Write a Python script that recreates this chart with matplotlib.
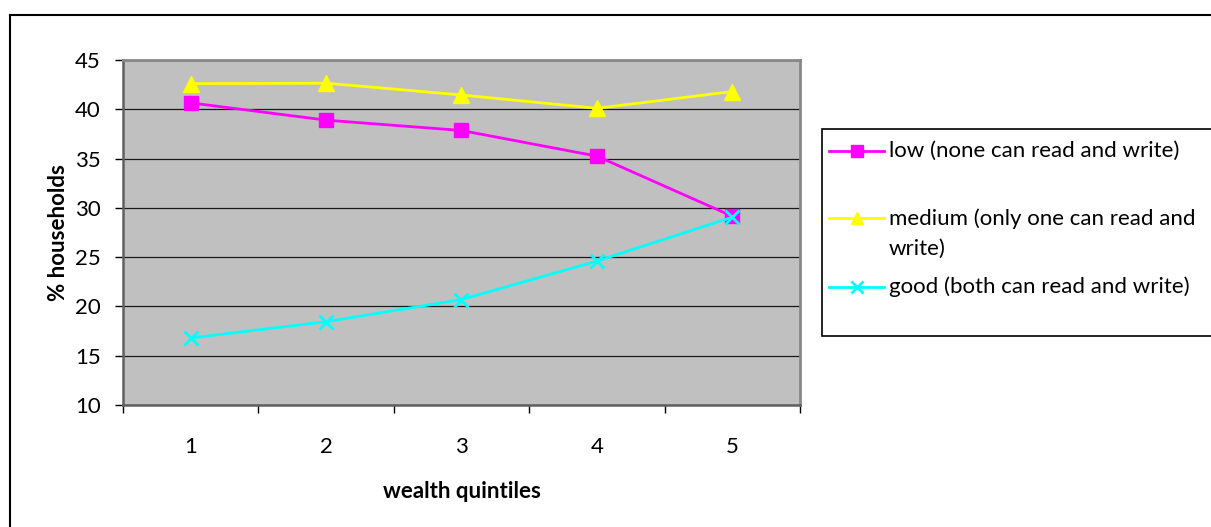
import matplotlib
matplotlib.use("Agg")
import matplotlib.pyplot as plt
from matplotlib.lines import Line2D

plt.rcParams['font.family'] = ['Lato', 'DejaVu Sans']

# Data
quintiles = ['1', '2', '3', '4', '5']
low = [40.65, 38.9, 37.85, 35.25, 29.15]
medium = [42.6, 42.65, 41.45, 40.1, 41.8]
good = [16.8, 18.45, 20.7, 24.6, 29.05]
labels = ['low (none can read and write)',
          'medium (only one can read and\nwrite)',
          'good (both can read and write)']
yticks = [10, 15, 20, 25, 30, 35, 40, 45]

FS = 16
W, H = 1211, 527
fig = plt.figure(figsize=(W / 100, H / 100), dpi=100)
fig.patch.set_facecolor('white')

# plot area in pixel coordinates
x0, x1, ytop, ybot = 123, 800, 60, 405
ax = fig.add_axes([x0 / W, 1 - ybot / H, (x1 - x0) / W, (ybot - ytop) / H])
ax.set_facecolor('#C0C0C0')

styles = [
    dict(color='#FF00FF', marker='s', ms=10, mfc='#FF00FF', mec='#FF00FF', mew=1),
    dict(color='#FFFF00', marker='^', ms=11, mfc='#FFFF00', mec='#FFFF00', mew=1),
    dict(color='#00FFFF', marker='x', ms=10.5, mec='#00FFFF', mew=2),
]
xs = list(range(len(quintiles)))
for vals, st in zip([low, medium, good], styles):
    ax.plot(xs, vals, lw=2, zorder=3, clip_on=False, **st)

ax.set_xlim(-0.5, len(quintiles) - 0.5)
ax.set_ylim(10, 45)
ax.set_yticks(yticks)
ax.set_yticklabels([str(v) for v in yticks], fontsize=FS)
ax.yaxis.grid(True, color='#1a1a1a', lw=0.9)
ax.set_axisbelow(True)

# category labels centred, tick marks on category boundaries
ax.set_xticks(xs)
ax.set_xticklabels(quintiles, fontsize=FS)
ax.tick_params(axis='x', which='major', length=0, pad=23)
ax.set_xticks([i - 0.5 for i in range(len(quintiles) + 1)], minor=True)
ax.tick_params(axis='x', which='minor', length=6, width=1, color='black', direction='out')
ax.tick_params(axis='y', length=6, width=1, color='black', direction='out', pad=10)

for side in ['left', 'bottom']:
    ax.spines[side].set_color('#606060')
    ax.spines[side].set_linewidth(1.8)
for side in ['top', 'right']:
    ax.spines[side].set_color('#888888')
    ax.spines[side].set_linewidth(2)

ax.set_ylabel('% households', fontsize=FS, fontweight='bold', labelpad=4)
ax.set_xlabel('wealth quintiles', fontsize=FS, fontweight='bold', labelpad=17)

# outer chart frame (left and top edges)
fig.add_artist(Line2D([10 / W, 10 / W], [0, 1 - 15 / H], transform=fig.transFigure,
                      color='black', lw=1.5))
fig.add_artist(Line2D([10 / W, 1], [1 - 15 / H, 1 - 15 / H], transform=fig.transFigure,
                      color='black', lw=1.5))

# legend box
lx0, ly0, ly1 = 822, 129, 336
fig.add_artist(plt.Rectangle((lx0 / W, 1 - ly1 / H), (W + 5 - lx0) / W, (ly1 - ly0) / H,
                             transform=fig.transFigure, facecolor='white',
                             edgecolor='black', lw=1.2))
entry_y = [151, 218, 287]
text_y = [151, 234, 287]
leg_ms = [8, 9, 8.5]
for st, lab, ey, ty, ms in zip(styles, labels, entry_y, text_y, leg_ms):
    st2 = dict(st)
    st2['ms'] = ms
    fig.add_artist(Line2D([829 / W, 884 / W], [1 - ey / H, 1 - ey / H],
                          transform=fig.transFigure, lw=2, markevery=[], **st2))
    fig.add_artist(Line2D([856.5 / W], [1 - ey / H], transform=fig.transFigure,
                          lw=0, **st2))
    fig.text(889 / W, 1 - ty / H, lab, fontsize=FS, va='center', ha='left',
             linespacing=1.6)

fig.savefig('out.png', dpi=100)
